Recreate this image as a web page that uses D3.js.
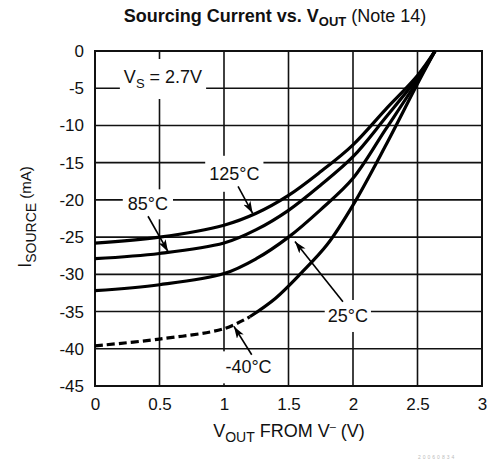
<!DOCTYPE html>
<html>
<head>
<meta charset="utf-8">
<script src="https://cdn.jsdelivr.net/npm/d3@7"></script>
<style>
  body { margin: 0; background: #fff; }
  svg text { font-family: "Liberation Sans", Arial, sans-serif; fill: #111; }
</style>
</head>
<body>
<script>
// Data: V_OUT (V) and I_SOURCE (mA) per temperature
const vOut125 = [0, 0.5, 1.0, 1.25, 1.5, 1.75, 2.0, 2.25, 2.5, 2.636];
const iSrc125 = [-25.8, -25.0, -23.4, -21.8, -19.4, -16.2, -12.6, -7.9, -3.3, 0];

const vOut85 = [0, 0.5, 1.0, 1.25, 1.5, 1.75, 2.0, 2.25, 2.5, 2.636];
const iSrc85 = [-27.9, -27.2, -25.8, -24.0, -21.4, -18.0, -14.2, -9.0, -3.6, 0];

const vOut25 = [0, 0.5, 1.0, 1.25, 1.5, 1.75, 2.0, 2.25, 2.5, 2.636];
const iSrc25 = [-32.2, -31.4, -29.9, -27.9, -25.0, -21.3, -17.1, -10.6, -4.0, 0];

const vOutM40 = [0, 0.5, 1.0, 1.2, 1.4, 1.6, 1.8, 2.0, 2.25, 2.5, 2.636];
const iSrcM40 = [-39.6, -38.7, -37.3, -35.7, -33.2, -29.8, -26.0, -20.7, -12.8, -4.4, 0];
const dashUntil = 1.2; // -40°C curve is dashed below this voltage

const xTicks = [0, 0.5, 1, 1.5, 2, 2.5, 3];
const xTickLabels = ['0', '0.5', '1', '1.5', '2', '2.5', '3'];
const yTicks = [0, -5, -10, -15, -20, -25, -30, -35, -40, -45];

const width = 487;
const height = 460;

const x = d3.scaleLinear().domain([0, 3]).range([95, 482]);
const y = d3.scaleLinear().domain([-45, 0]).range([386, 51]);

const svg = d3.select('body')
    .append('svg')
    .attr('width', width)
    .attr('height', height);

// Title
const title = svg.append('text')
    .attr('x', 275)
    .attr('y', 22)
    .attr('text-anchor', 'middle')
    .style('font-size', '18px');
title.append('tspan').style('font-weight', 'bold').text('Sourcing Current vs. V');
title.append('tspan').style('font-weight', 'bold').style('font-size', '13px').attr('dy', 4).text('OUT');
title.append('tspan').attr('dy', -4).text(' (Note 14)');

// Grid
const grid = svg.append('g').attr('stroke', '#111').attr('stroke-width', 1.6);
grid.selectAll('line.v')
    .data(xTicks.slice(1, -1))
    .enter()
    .append('line')
    .attr('x1', d => x(d)).attr('x2', d => x(d))
    .attr('y1', y(0)).attr('y2', y(-45));
grid.selectAll('line.h')
    .data(yTicks.slice(1, -1))
    .enter()
    .append('line')
    .attr('x1', x(0)).attr('x2', x(3))
    .attr('y1', d => y(d)).attr('y2', d => y(d));

// Tick labels
const xAxis = svg.append('g')
    .attr('transform', `translate(0,${y(-45)})`)
    .call(d3.axisBottom(x).tickValues(xTicks).tickFormat((d, i) => xTickLabels[i]).tickSize(0).tickPadding(12));
const yAxis = svg.append('g')
    .attr('transform', `translate(${x(0)},0)`)
    .call(d3.axisLeft(y).tickValues(yTicks).tickFormat(d => d).tickSize(0).tickPadding(11));
[xAxis, yAxis].forEach(a => {
    a.select('.domain').remove();
    a.selectAll('text').style('font-size', '17px').style('font-family', '"Liberation Sans", Arial, sans-serif').attr('fill', '#111');
});

// Frame
svg.append('rect')
    .attr('x', x(0)).attr('y', y(0))
    .attr('width', x(3) - x(0)).attr('height', y(-45) - y(0))
    .attr('fill', 'none').attr('stroke', '#111').attr('stroke-width', 2);

// Annotation labels (white boxes break the grid)
const notes = [
    { v: 0.527, i: -4.3, parts: [['V', 18, 0], ['S', 13, 5], [' = 2.7V', 18, -5]], padX: 4, padY: 8 },
    { v: 1.08, i: -17.3, parts: [['125°C', 18, 0]], padX: 4, padY: 8 },
    { v: 0.41, i: -21.4, parts: [['85°C', 18, 0]], padX: 5, padY: 5 },
    { v: 1.96, i: -36.4, parts: [['25°C', 18, 0]], padX: 3, padY: 6 },
    { v: 1.19, i: -43.3, parts: [['-40°C', 18, 0]], padX: 3, padY: 6 }
];
const noteG = svg.append('g');
notes.forEach(n => {
    const bg = noteG.append('rect').attr('fill', '#fff');
    const t = noteG.append('text')
        .attr('x', x(n.v)).attr('y', y(n.i))
        .attr('text-anchor', 'middle');
    n.parts.forEach(p => {
        t.append('tspan').style('font-size', p[1] + 'px').attr('dy', p[2]).text(p[0]);
    });
    const b = t.node().getBBox();
    bg.attr('x', b.x - n.padX).attr('y', b.y - n.padY)
      .attr('width', b.width + 2 * n.padX).attr('height', b.height + 2 * n.padY);
});

// Curves
const line = d3.line()
    .x(d => x(d[0]))
    .y(d => y(d[1]))
    .curve(d3.curveCatmullRom.alpha(0.5));

const zip = (a, b) => a.map((v, k) => [v, b[k]]);
const curves = svg.append('g')
    .attr('fill', 'none')
    .attr('stroke', '#000')
    .attr('stroke-width', 3.2)
    .attr('stroke-linecap', 'butt');

[zip(vOut125, iSrc125), zip(vOut85, iSrc85), zip(vOut25, iSrc25)].forEach(pts => {
    curves.append('path').attr('d', line(pts));
});
const m40 = zip(vOutM40, iSrcM40);
curves.append('path')
    .attr('d', line(m40.filter(d => d[0] <= dashUntil)))
    .attr('stroke-dasharray', '8,4');
curves.append('path')
    .attr('d', line(m40.filter(d => d[0] >= dashUntil)));

// Arrows from labels to curves
svg.append('defs').append('marker')
    .attr('id', 'head')
    .attr('viewBox', '0 0 12 8')
    .attr('refX', 12).attr('refY', 4)
    .attr('markerWidth', 12).attr('markerHeight', 8)
    .attr('markerUnits', 'userSpaceOnUse')
    .attr('orient', 'auto')
    .append('path')
    .attr('d', 'M0,0 L12,4 L0,8 L3,4 Z')
    .attr('fill', '#000');

const arrows = [
    { from: [1.109, -18.2], to: [1.222, -21.8] },
    { from: [0.411, -22.2], to: [0.566, -26.96] },
    { from: [1.922, -33.67], to: [1.550, -25.6] },
    { from: [1.215, -40.8], to: [1.077, -37.0] }
];
svg.append('g').selectAll('line')
    .data(arrows)
    .enter()
    .append('line')
    .attr('x1', d => x(d.from[0])).attr('y1', d => y(d.from[1]))
    .attr('x2', d => x(d.to[0])).attr('y2', d => y(d.to[1]))
    .attr('stroke', '#000')
    .attr('stroke-width', 1.6)
    .attr('marker-end', 'url(#head)');

// Axis titles
const yTitle = svg.append('text')
    .attr('transform', 'translate(31,217) rotate(-90)')
    .attr('text-anchor', 'middle')
    .style('font-size', '18px');
yTitle.append('tspan').text('I');
yTitle.append('tspan').style('font-size', '14px').attr('dy', 5).text('SOURCE');
yTitle.append('tspan').style('font-size', '15px').attr('dy', -5).text(' (mA)');

const xTitle = svg.append('text')
    .attr('x', 289)
    .attr('y', 437)
    .attr('text-anchor', 'middle')
    .style('font-size', '18px');
xTitle.append('tspan').text('V');
xTitle.append('tspan').style('font-size', '14px').attr('dy', 5).text('OUT');
xTitle.append('tspan').attr('dy', -5).text(' FROM V');
xTitle.append('tspan').style('font-size', '11px').attr('dy', -7).text('–');
xTitle.append('tspan').attr('dy', 7).text(' (V)');

// figure code at the bottom edge
svg.append('text')
    .attr('x', 418).attr('y', 459)
    .style('font-size', '5px')
    .style('fill', '#bbb')
    .style('letter-spacing', '2px')
    .text('20060834');
</script>
</body>
</html>
